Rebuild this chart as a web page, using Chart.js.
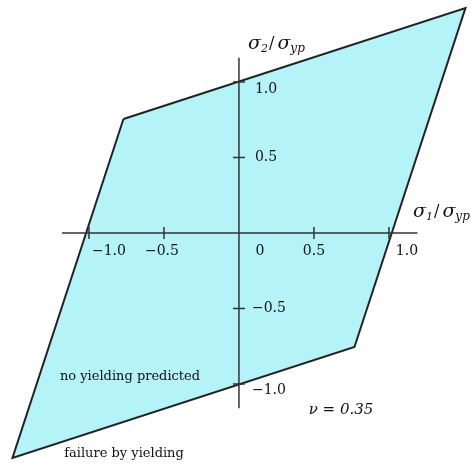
<!DOCTYPE html>
<html>
<head>
<meta charset="utf-8">
<script src="https://cdn.jsdelivr.net/npm/chart.js@4.4.0/dist/chart.umd.min.js"></script>
<style>
  html, body { margin: 0; padding: 0; background: #fff; }
  #wrap { width: 471px; height: 464px; }
</style>
</head>
<body>
<div id="wrap"><canvas id="yield"></canvas></div>
<script>
// corners of the yield locus (sigma1/sigma_yp, sigma2/sigma_yp)
var cornerS1 = [-0.77, 1.51, 0.77, -1.51];
var cornerS2 = [0.755, 1.49, -0.755, -1.49];
var tickVals = [-1.0, -0.5, 0.5, 1.0];
var xTickLabels = ['\u22121.0', '\u22120.5', '0', '0.5', '1.0'];
var xTickAt = [-1.0, -0.5, 0, 0.5, 1.0];
var yTickLabels = ['1.0', '0.5', '\u22120.5', '\u22121.0'];
var yTickAt = [1.0, 0.5, -0.5, -1.0];
var nu = 0.35;

var locus = cornerS1.map(function (s1, i) { return { x: s1, y: cornerS2[i] }; });
locus.push(locus[0]);

var serif = '"DejaVu Serif", serif';

var labelsPlugin = {
    id: 'labels',
    afterDatasetsDraw: function (chart) {
        var c = chart.ctx;
        var xs = chart.scales.x, ys = chart.scales.y;
        var y0 = ys.getPixelForValue(0), x0 = xs.getPixelForValue(0);
        c.save();
        c.fillStyle = '#111';
        c.textBaseline = 'middle';
        c.font = '14px ' + serif;

        // x tick labels sit below the axis, nudged clear of the edges
        var xShift = [20, -2, 21, 0, 18];
        c.textAlign = 'center';
        xTickAt.forEach(function (v, i) {
            c.fillText(xTickLabels[i], xs.getPixelForValue(v) + xShift[i], y0 + 18);
        });

        // y tick labels to the right of the axis
        var yShift = [7, 0, 0, 6];
        c.textAlign = 'left';
        yTickAt.forEach(function (v, i) {
            c.fillText(yTickLabels[i], x0 + (v < 0 ? 13 : 16), ys.getPixelForValue(v) + yShift[i]);
        });

        // axis titles with subscripts
        function ratio(x, y, sub) {
            c.textAlign = 'left';
            c.font = 'italic 19px ' + serif;
            c.fillText('\u03c3', x, y);
            x += c.measureText('\u03c3').width;
            c.font = 'italic 11px ' + serif;
            c.fillText(sub, x, y + 5);
            x += c.measureText(sub).width + 1;
            c.font = '16px ' + serif;
            c.fillText('/', x, y);
            x += c.measureText('/ ').width - 2;
            c.font = 'italic 19px ' + serif;
            c.fillText('\u03c3', x, y);
            x += c.measureText('\u03c3').width;
            c.font = 'italic 12px ' + serif;
            c.fillText('yp', x, y + 5);
        }
        ratio(x0 + 9, 44, '2');
        ratio(x0 + 174, 212, '1');

        c.textAlign = 'center';
        c.font = '13px ' + serif;
        c.fillText('no yielding predicted', 130, 377);
        c.fillText('failure by yielding', 124, 454);
        c.font = 'italic 15px ' + serif;
        c.fillText('\u03bd = ' + nu.toFixed(2), 341, 410);
        c.restore();
    }
};

new Chart(document.getElementById('yield'), {
    type: 'scatter',
    data: {
        datasets: [{
            // shaded safe region, drawn first so the axes sit on top
            data: locus,
            order: 10,
            showLine: true,
            fill: 'shape',
            backgroundColor: 'rgb(180, 243, 247)',
            borderColor: '#222',
            borderWidth: 2,
            pointRadius: 0,
            tension: 0
        }, {
            data: [{ x: -1.18, y: 0 }, { x: 1.19, y: 0 }],
            showLine: true,
            borderColor: '#333',
            borderWidth: 1.5,
            pointRadius: 0
        }, {
            data: [{ x: 0, y: 1.16 }, { x: 0, y: -1.16 }],
            showLine: true,
            borderColor: '#333',
            borderWidth: 1.5,
            pointRadius: 0
        }, {
            data: tickVals.map(function (v) { return { x: v, y: 0 }; }),
            pointStyle: 'line',
            rotation: 90,
            pointRadius: 6,
            borderColor: '#333',
            borderWidth: 1.5
        }, {
            data: tickVals.map(function (v) { return { x: 0, y: v }; }),
            pointStyle: 'line',
            rotation: 0,
            pointRadius: 6,
            borderColor: '#333',
            borderWidth: 1.5
        }]
    },
    options: {
        responsive: true,
        maintainAspectRatio: false,
        animation: false,
        layout: { padding: 0, autoPadding: false },
        plugins: { legend: { display: false }, tooltip: { enabled: false } },
        scales: {
            x: { type: 'linear', min: -1.593, max: 1.547, display: false },
            y: { type: 'linear', min: -1.53, max: 1.543, display: false }
        }
    },
    plugins: [labelsPlugin]
});
</script>
</body>
</html>
